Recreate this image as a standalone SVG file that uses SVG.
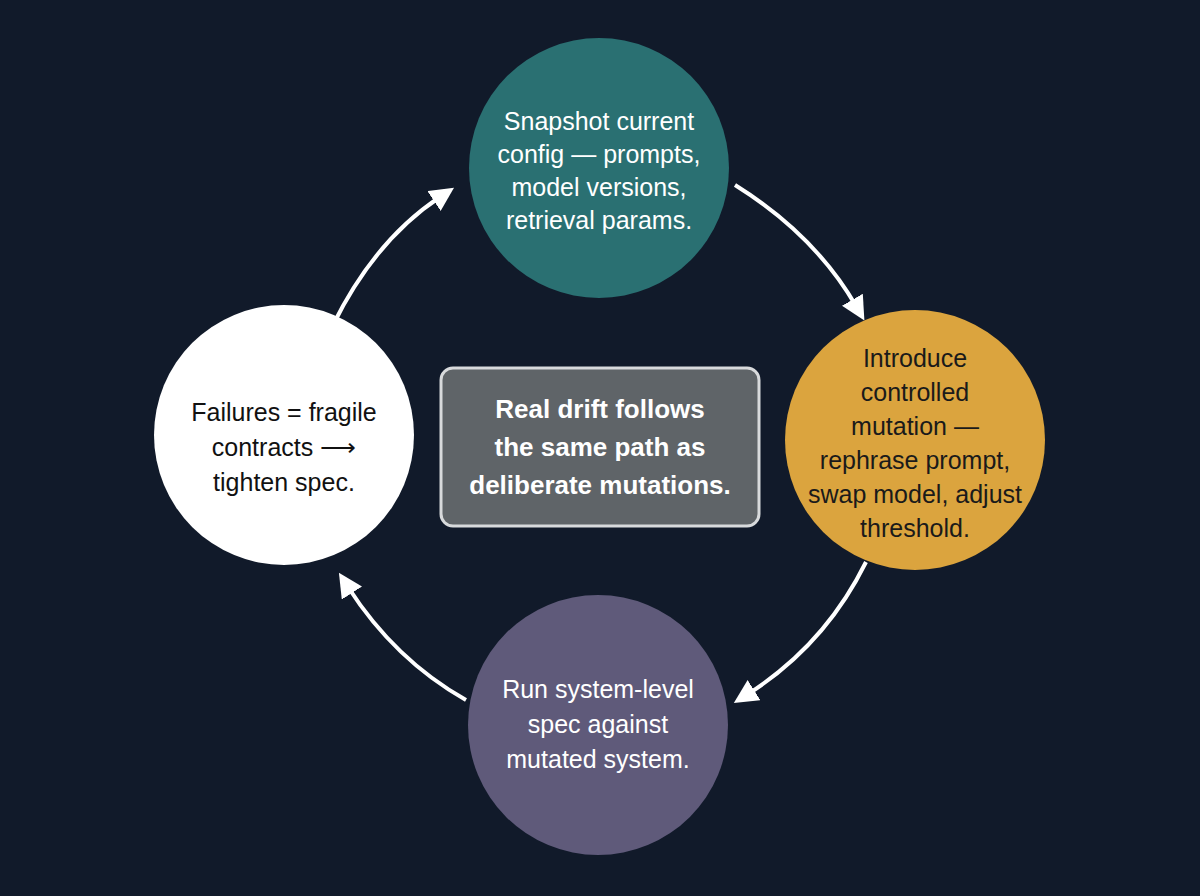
<svg xmlns="http://www.w3.org/2000/svg" width="1200" height="896" viewBox="0 0 1200 896">
<style>
.t{font-family:"Liberation Sans",Arial,sans-serif;font-size:25px;text-anchor:middle}
.c{stroke:#fff;stroke-width:4;fill:none;marker-end:url(#a)}
</style>
<defs><marker id="a" viewBox="0 0 10 10" refX="3" refY="5" markerWidth="24" markerHeight="24" markerUnits="userSpaceOnUse" orient="auto"><path d="M0,0 L10,5 L0,10 z" fill="#fff"/></marker></defs>
<rect width="1200" height="896" fill="#111a2a"/>
<g id="connectors">
<path class="c" d="M333,325 Q375,240 440,197"/>
<path class="c" d="M735,185 Q815,235 856,306"/>
<path class="c" d="M866,562 Q825,645 748,694"/>
<path class="c" d="M466,700 Q395,660 348,587"/>
</g>
<g id="n1"><circle cx="599" cy="168" r="130" fill="#2a7072"/>
<text class="t" fill="#fff"><tspan x="599" y="130">Snapshot current</tspan><tspan x="599" y="163">config — prompts,</tspan><tspan x="599" y="196">model versions,</tspan><tspan x="599" y="229">retrieval params.</tspan></text></g>
<g id="n2"><circle cx="915" cy="440" r="130" fill="#dba43e"/>
<text class="t" fill="#1a1a1a"><tspan x="915" y="367">Introduce</tspan><tspan x="915" y="401">controlled</tspan><tspan x="915" y="435">mutation —</tspan><tspan x="915" y="469">rephrase prompt,</tspan><tspan x="915" y="503">swap model, adjust</tspan><tspan x="915" y="537">threshold.</tspan></text></g>
<g id="n3"><circle cx="598" cy="725" r="130" fill="#5f5a7a"/>
<text class="t" fill="#fff"><tspan x="598" y="698">Run system-level</tspan><tspan x="598" y="733">spec against</tspan><tspan x="598" y="768">mutated system.</tspan></text></g>
<g id="n4"><circle cx="284" cy="435" r="130" fill="#fff"/>
<text class="t" fill="#111"><tspan x="284" y="421">Failures = fragile</tspan><tspan x="284" y="456">contracts ⟶</tspan><tspan x="284" y="491">tighten spec.</tspan></text></g>
<g id="center"><rect x="441" y="368" width="318" height="158" rx="12" fill="#5f6468" stroke="#d8dadc" stroke-width="3"/>
<text class="t" fill="#fff" font-weight="bold" style="font-size:26px"><tspan x="600" y="418">Real drift follows</tspan><tspan x="600" y="456">the same path as</tspan><tspan x="600" y="494">deliberate mutations.</tspan></text></g>
</svg>
